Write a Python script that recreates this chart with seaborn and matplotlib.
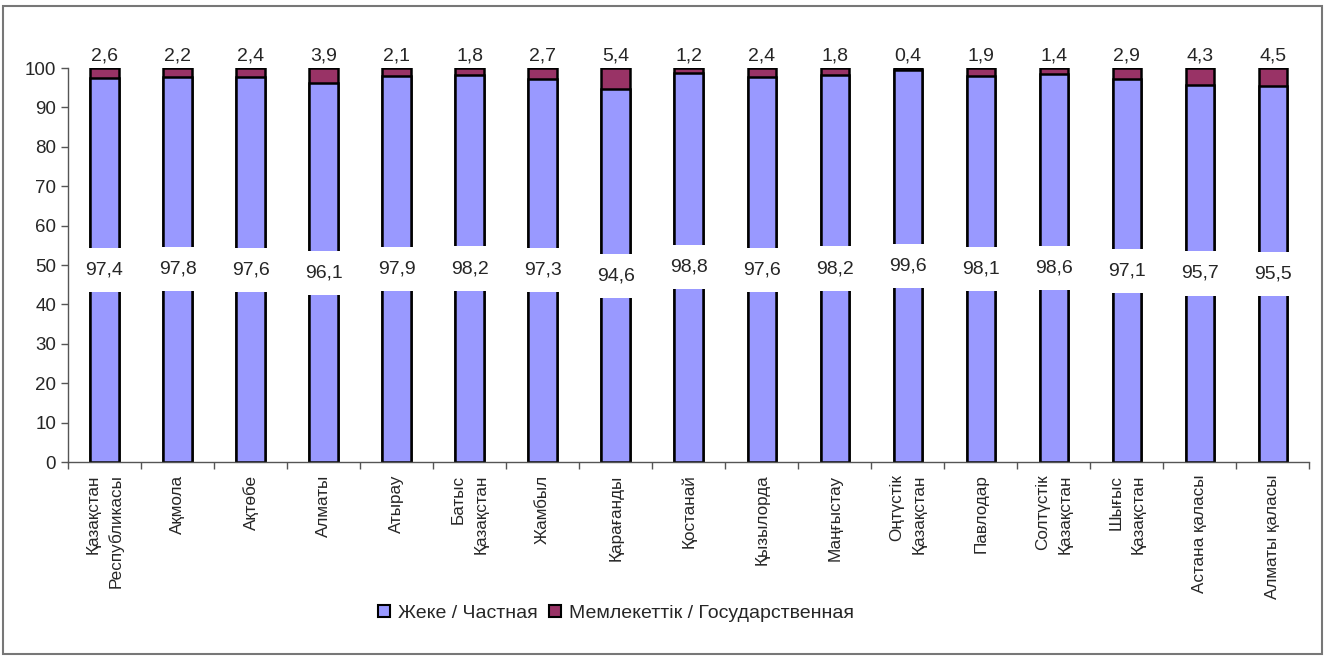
import pandas as pd
import matplotlib
matplotlib.use("Agg")
import matplotlib.pyplot as plt
import seaborn as sns
from matplotlib.patches import Rectangle, Patch

# ─────────────────────────────────────────────
# DATA
# ─────────────────────────────────────────────

regions = [
    "Қазақстан\nРеспубликасы", "Ақмола", "Ақтөбе", "Алматы", "Атырау",
    "Батыс\nҚазақстан", "Жамбыл", "Қарағанды", "Қостанай", "Қызылорда",
    "Маңғыстау", "Оңтүстік\nҚазақстан", "Павлодар", "Солтүстік\nҚазақстан",
    "Шығыс\nҚазақстан", "Астана қаласы", "Алматы қаласы",
]
private = [97.4, 97.8, 97.6, 96.1, 97.9, 98.2, 97.3, 94.6, 98.8, 97.6,
           98.2, 99.6, 98.1, 98.6, 97.1, 95.7, 95.5]
state = [2.6, 2.2, 2.4, 3.9, 2.1, 1.8, 2.7, 5.4, 1.2, 2.4,
         1.8, 0.4, 1.9, 1.4, 2.9, 4.3, 4.5]

label_private = "Жеке / Частная"
label_state = "Мемлекеттік / Государственная"

COLOR_PRIVATE = "#9999FF"
COLOR_STATE = "#993366"

df = pd.DataFrame({"region": regions, "private": private, "state": state})
df["total"] = df["private"] + df["state"]

# ─────────────────────────────────────────────
# PLOT
# ─────────────────────────────────────────────

sns.set_style("white")
plt.rcParams["font.family"] = ["Liberation Sans", "DejaVu Sans"]

fig = plt.figure(figsize=(13.25, 6.56), dpi=100)
ax = fig.add_axes([0.0513, 0.2957, 0.937, 0.6006])

bar_w = 0.39
sns.barplot(data=df, x="region", y="total", color=COLOR_STATE, width=bar_w,
            edgecolor="black", linewidth=1.8, saturation=1, ax=ax)
sns.barplot(data=df, x="region", y="private", color=COLOR_PRIVATE, width=bar_w,
            edgecolor="black", linewidth=1.8, saturation=1, ax=ax)

n = len(df)
for i, row in df.iterrows():
    ax.text(i, row["total"] + 1.0, f"{row['state']:.1f}".replace(".", ","),
            ha="center", va="bottom", fontsize=14)
    ax.text(i, row["private"] / 2, f"{row['private']:.1f}".replace(".", ","),
            ha="center", va="center", fontsize=14,
            bbox=dict(boxstyle="square,pad=0.7", fc="white", ec="none"))

ax.set_xlim(-0.5, n - 0.5)
ax.set_ylim(0, 100)
ax.set_yticks(range(0, 101, 10))
ax.tick_params(axis="y", labelsize=13.5, length=5, width=1, direction="out",
               left=True, color="#555555")
ax.set_xticks(range(n))
ax.set_xticklabels(df["region"], rotation=90, fontsize=12.3, va="top",
                   ha="center", multialignment="right", linespacing=1.6)
ax.tick_params(axis="x", length=0, pad=9)
ax.set_xticks([i - 0.5 for i in range(n + 1)], minor=True)
ax.tick_params(axis="x", which="minor", length=5, width=1, color="#555555",
               bottom=True)
ax.set_xlabel("")
ax.set_ylabel("")

for side in ["top", "right"]:
    ax.spines[side].set_visible(False)
for side in ["left", "bottom"]:
    ax.spines[side].set_color("#555555")
    ax.spines[side].set_linewidth(1)

handles = [Patch(facecolor=COLOR_PRIVATE, edgecolor="black", linewidth=1.5),
           Patch(facecolor=COLOR_STATE, edgecolor="black", linewidth=1.5)]
fig.legend(handles, [label_private, label_state], loc="center",
           bbox_to_anchor=(0.465, 0.065), ncol=2, frameon=False, fontsize=14,
           handlelength=0.6, handleheight=0.6, handletextpad=0.4,
           columnspacing=0.6)

fig.patches.append(Rectangle((0.002, 0.003), 0.996, 0.988, transform=fig.transFigure,
                             fill=False, edgecolor="#777777", linewidth=1.5))

fig.savefig("out.png", dpi=100)
